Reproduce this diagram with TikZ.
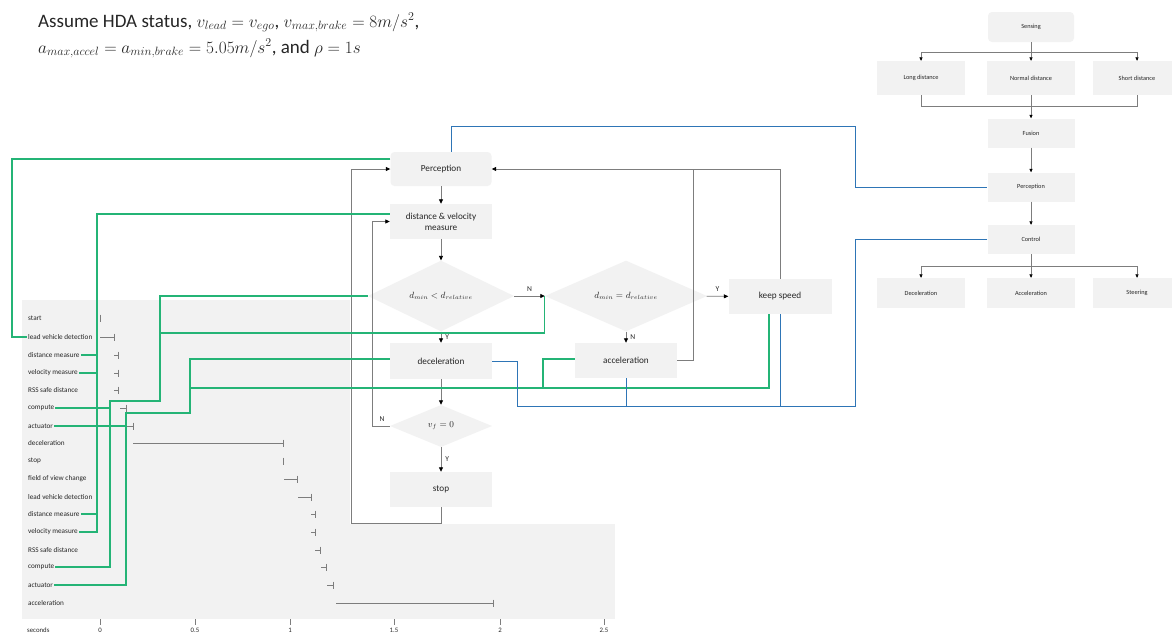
\documentclass[tikz,border=0pt]{standalone}
\usepackage{fontspec}
\setmainfont{Carlito}
\usetikzlibrary{arrows.meta,shapes.geometric,calc}
\definecolor{boxg}{RGB}{242,242,242}
\definecolor{lineg}{RGB}{125,125,125}
\definecolor{grn}{RGB}{36,180,118}
\definecolor{blu}{RGB}{46,117,182}
\definecolor{txt}{RGB}{38,38,38}
\newcommand{\hm}[1]{{\fontsize{16.5}{20}\selectfont$#1$}}
\begin{document}
\begin{tikzpicture}[x=1pt,y=-1pt,
  fbox/.style={fill=boxg,draw=none,minimum width=102pt,minimum height=35pt,inner sep=1pt,align=center,text=txt,font=\fontsize{9.2}{11}\selectfont},
  rbox/.style={fill=boxg,draw=none,minimum width=87pt,minimum height=30pt,inner sep=1pt,text=txt,font=\fontsize{6.3}{7.5}\selectfont},
  dia/.style={diamond,fill=boxg,draw=none,inner sep=0pt,text=txt,font=\fontsize{9.2}{11}\selectfont},
  flow/.style={draw=lineg,line width=0.8pt},
  farr/.style={flow,-{Triangle[length=4.5pt,width=4pt,black]}},
  tarr/.style={draw=lineg,line width=0.6pt,-{Triangle[length=3.5pt,width=3.2pt,black]}},
  tline/.style={draw=lineg,line width=0.6pt},
  lbl/.style={font=\fontsize{7.5}{8.5}\selectfont,text=txt,inner sep=4pt},
  gline/.style={draw=grn,line width=1.1pt},
  bline/.style={draw=blu,line width=0.9pt},
  glbl/.style={anchor=west,inner sep=1pt,text=txt,font=\fontsize{7.2}{8.5}\selectfont},
  gbar/.style={draw=lineg,line width=0.6pt},
  axl/.style={text=txt,font=\fontsize{6.8}{8}\selectfont,inner sep=0pt}
]
\useasboundingbox (0,0) rectangle (1172,635);
\clip (0,0) rectangle (1172,635);
\fill[white] (0,0) rectangle (1172,635);

% heading
\node[anchor=base west,inner sep=0pt,text=txt,font=\fontsize{19}{22}\selectfont] (h1) at (38,27)
  {Assume HDA status, \hm{v_{lead}=v_{ego}}, \hm{v_{max,brake}=8m/s^2},};
\node[anchor=base west,inner sep=0pt,text=txt,font=\fontsize{19}{22}\selectfont] (h2) at (38,53)
  {\hm{a_{max,accel}=a_{min,brake}=5.05m/s^2}, and \hm{\rho=1s}};

% gantt background and flowchart white area
\fill[boxg] (22,300) rectangle (615,619);
\fill[white] (350,290) rectangle (620,524);

% gantt labels
\node[glbl] (g1) at (27,318) {start};
\node[glbl] (g2) at (27,337) {lead vehicle detection};
\node[glbl] (g3) at (27,355) {distance measure};
\node[glbl] (g4) at (27,373) {velocity measure};
\node[glbl] (g5) at (27,390) {RSS safe distance};
\node[glbl] (g6) at (27,408) {compute};
\node[glbl] (g7) at (27,426) {actuator};
\node[glbl] (g8) at (27,443) {deceleration};
\node[glbl] (g9) at (27,461) {stop};
\node[glbl] (g10) at (27,479) {field of view change};
\node[glbl] (g11) at (27,497) {lead vehicle detection};
\node[glbl] (g12) at (27,514) {distance measure};
\node[glbl] (g13) at (27,532) {velocity measure};
\node[glbl] (g14) at (27,550) {RSS safe distance};
\node[glbl] (g15) at (27,567) {compute};
\node[glbl] (g16) at (27,585) {actuator};
\node[glbl] (g17) at (27,603) {acceleration};

% gantt bars
\draw[gbar] (100,314.5) -- (100,321.5);
\foreach \a/\b/\y in {100/114/337,114/118/355,114/118/373,114/118/390,120/126/408,127/133/426,133/283/443,284/297/479,298/311/497,311/315/514,311/315/532,315/320/550,321/326/567,327/333/585,336/493/603}{
  \draw[gbar] (\a,\y) -- (\b,\y);
  \draw[gbar] (\b,\y-3.5) -- (\b,\y+3.5);
}
\draw[gbar] (283,457.5) -- (283,464.5);

% axis
\node[axl,anchor=west] (sec) at (27,630) {seconds};
\foreach \x/\t in {100/0,195/0.5,290/1,394/1.5,500/2,604/2.5}{
  \draw[gbar] (\x,619) -- (\x,625);
  \node[axl] at (\x,630) {\t};
}

% flowchart nodes
\node[fbox,rounded corners=4pt,minimum width=101pt,minimum height=34pt] (perc) at (441,169) {Perception};
\node[fbox] (dvm) at (441,221.5) {distance \& velocity\\measure};
\node[dia,minimum width=146pt,minimum height=41pt] (d1) at (441,296) {$d_{min}<d_{relative}$};
\node[dia,minimum width=162pt,minimum height=43pt] (d2) at (626,296) {$d_{min}=d_{relative}$};
\node[fbox,minimum width=103pt] (ks) at (780,296.5) {keep speed};
\node[fbox,minimum height=36pt] (dec) at (441,361) {deceleration};
\node[fbox] (acc) at (626,360.5) {acceleration};
\node[dia,minimum width=102pt,minimum height=42pt] (vf) at (441,426) {$v_f=0$};
\node[fbox] (stop) at (441,489.5) {stop};

% flowchart arrows
\draw[farr] (perc) -- (dvm);
\draw[farr] (dvm) -- (d1);
\draw[farr] (d1) -- node[lbl,above] {N} (d2);
\draw[farr] (d1) -- node[lbl,right] {Y} (dec);
\draw[farr] (d2) -- node[lbl,above] {Y} (ks);
\draw[farr] (d2) -- node[lbl,right] {N} (acc);
\draw[farr] (dec) -- (vf);
\draw[farr] (vf) -- node[lbl,right] {Y} (stop);
\draw[farr] (vf.west) -- node[lbl,above,pos=0.45] {N} ++(-17,0) |- (dvm.west);
\draw[farr] (stop.south) -- ++(0,16) -| ($(perc.west)+(-39,0)$) -- (perc.west);
\draw[farr] (ks.north) |- (perc.east);
\draw[flow] (acc.east) -| (693,169);

% right tree
\node[rbox,rounded corners=4pt,minimum width=86pt] (sens) at (1031,27) {Sensing};
\node[rbox,minimum width=88pt,minimum height=34pt] (long) at (921,78) {Long distance};
\node[rbox,minimum width=88pt,minimum height=34pt] (norm) at (1031,78) {Normal distance};
\node[rbox,minimum width=88pt,minimum height=34pt] (short) at (1137,78) {Short distance};
\node[rbox,minimum height=29pt] (fus) at (1031,133) {Fusion};
\node[rbox,minimum height=29pt] (rperc) at (1031,187) {Perception};
\node[rbox,minimum height=29pt] (ctrl) at (1031,239.5) {Control};
\node[rbox,minimum width=88pt] (rdec) at (921,293) {Deceleration};
\node[rbox,minimum width=88pt] (racc) at (1031,293) {Acceleration};
\node[rbox,minimum width=88pt] (rste) at (1137,293) {Steering};

\draw[tarr] (sens) -- (norm);
\draw[tarr] (sens.south) -- (1031,52) -| (long.north);
\draw[tarr] (sens.south) -- (1031,52) -| (short.north);
\draw[tline] (long.south) |- (1031,106);
\draw[tline] (short.south) |- (1031,106);
\draw[tarr] (norm) -- (fus);
\draw[tarr] (fus) -- (rperc);
\draw[tarr] (rperc) -- (ctrl);
\draw[tarr] (ctrl) -- (racc);
\draw[tarr] (ctrl.south) -- (1031,266) -| (rdec.north);
\draw[tarr] (ctrl.south) -- (1031,266) -| (rste.north);

% green links
\draw[gline] ($(perc.west)+(0,-10)$) -- (12,159) -- (12,337) -- (g2.west);
\draw[gline] ($(dvm.west)+(0,-7.5)$) -| (97,532) -- (g13.east);
\draw[gline] (g3.east) -- (97,355);
\draw[gline] (g4.east) -- (97,373);
\draw[gline] (g12.east) -- (97,514);
\draw[gline] (d1.west) -- (160,296) -- (160,401) -- (110,401) -- (110,567) -- (g15.east);
\draw[gline] (g6.east) -- (110,408);
\draw[gline] (d2.west) |- (160,333);
\draw[gline] ($(dec.west)+(0,-2)$) -- (190,359) -- (190,413) -- (126,413) -- (126,585) -- (g16.east);
\draw[gline] (g7.east) -- (126,426);
\draw[gline] (190,388) -| ($(ks.south)+(-11,0)$);
\draw[gline] ($(acc.west)+(0,-1.5)$) -| (543,388);

% blue links
\draw[bline] ($(perc.north)+(10,0)$) |- (855,126) |- (rperc.west);
\draw[bline] (ctrl.west) -| (855,406) -| (517,361) -- (dec.east);
\draw[bline] (acc.south) -- (626,406);
\draw[bline] (ks.south) -- (780,406);
\end{tikzpicture}
\end{document}
